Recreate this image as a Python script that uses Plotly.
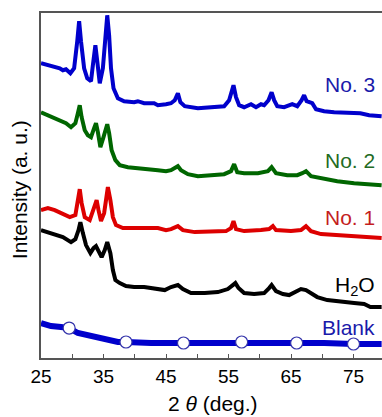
import plotly.graph_objects as go

# ---- data (2θ in degrees, intensity in arbitrary units) ----
no3_x = [25, 26.1, 27.2, 28, 28.5, 29, 29.7, 30.3, 30.8, 31.1, 31.4, 31.9, 32.4, 33.0, 33.3, 33.7, 34.0, 34.4, 34.9, 35.3,
         35.6, 35.9, 36.2, 36.6, 37.3, 38.3, 39.9, 40.5, 41.5, 43.1, 43.7, 45.0, 45.8, 46.4, 46.9, 47.3, 48.0, 50.1, 51.7, 54.3,
         55.1, 55.5, 55.8, 56.2, 56.7, 57.5, 58.6, 59.4, 60.2, 60.7, 61.4, 61.9, 62.3, 62.8, 63.9, 65.2, 66.0, 66.7, 67.1, 67.5,
         68.1, 68.4, 69.0, 70.3, 71.9, 74.0, 76.1, 77.5, 79.1, 79.5]
no3_y = [295, 293, 291, 290, 288, 289, 285, 290, 317, 337, 317, 290, 280, 277, 293, 313, 297, 275, 290, 323,
         343, 323, 290, 270, 260, 257, 256, 257, 255, 255, 253, 254, 255, 258, 265, 256, 252, 250, 251, 252,
         258, 268, 273, 261, 253, 251, 254, 251, 254, 253, 258, 266, 258, 252, 251, 254, 252, 258, 263, 257,
         255, 255, 249, 247, 246, 245, 245, 243, 242, 242]

no2_x = [25, 26.1, 27.2, 28.2, 29, 29.8, 30.5, 30.9, 31.2, 31.5, 32.0, 32.5, 33.0, 33.5, 33.8, 34.1, 34.5, 35.0, 35.6, 35.9,
         36.3, 36.9, 37.6, 38.9, 40.5, 42.1, 43.7, 45.0, 45.8, 46.9, 47.4, 48.5, 50.1, 52.2, 54.3, 55.4, 55.9, 56.4, 57.5, 59.7,
         61.3, 61.9, 62.6, 64.4, 66.0, 66.8, 67.4, 68.2, 69.8, 72.4, 75.1, 77.2, 79.1, 79.5]
no2_y = [246, 243, 241, 238, 235, 231, 235, 245, 253, 241, 228, 223, 221, 230, 235, 226, 211, 221, 234, 225,
         208, 198, 193, 191, 190, 190, 188, 187, 188, 192, 188, 184, 182, 183, 184, 187, 194, 186, 185, 185,
         187, 191, 185, 183, 183, 185, 187, 182, 180, 177, 175, 174, 173, 173]

no1_x = [25, 26.1, 27.2, 28.2, 29.6, 30.5, 30.9, 31.2, 31.5, 32.0, 32.8, 33.3, 33.9, 34.2, 34.6, 35.1, 35.4, 35.7, 36.1, 36.5,
         37.0, 38.1, 40.5, 42.1, 43.7, 45.0, 45.8, 46.9, 47.7, 49.6, 52.2, 54.6, 55.4, 55.8, 56.2, 57.5, 60.2, 61.5, 62.1, 62.6,
         65.0, 66.6, 67.4, 68.2, 69.8, 72.4, 75.6, 77.7, 79.1, 79.5]
no1_y = [148, 150, 148, 145, 141, 143, 158, 169, 155, 141, 138, 146, 158, 148, 137, 145, 161, 171, 158, 141,
         133, 130, 130, 130, 130, 128, 129, 132, 128, 126, 126, 127, 130, 137, 129, 127, 128, 129, 132, 128,
         127, 128, 132, 127, 124, 123, 122, 121, 120, 120]

h2o_x = [25, 26.1, 27.2, 28.5, 29.8, 30.5, 31.0, 31.3, 31.7, 32.2, 32.9, 33.4, 33.8, 34.2, 34.7, 35.2, 35.6, 36.1, 36.5, 36.9,
         37.6, 38.6, 39.9, 41.5, 43.1, 44.8, 45.8, 46.9, 47.7, 49.0, 51.2, 53.3, 54.9, 55.7, 56.1, 56.6, 57.5, 59.1, 60.7, 61.5,
         61.9, 62.6, 63.7, 64.7, 65.8, 66.6, 67.4, 68.2, 69.2, 70.8, 73.0, 75.1, 76.7, 77.7, 79.1, 79.5]
h2o_y = [128, 126, 124, 121, 116, 119, 128, 136, 125, 113, 105, 110, 112, 106, 101, 108, 116, 105, 88, 78,
         75, 72, 71, 71, 70, 68, 71, 73, 69, 65, 65, 66, 69, 73, 75, 70, 65, 64, 65, 70,
         73, 67, 64, 63, 66, 69, 68, 65, 61, 58, 56, 55, 54, 51, 51, 51]

blank_x = [25, 26.6, 28.2, 29.5, 30.9, 32.5, 34.1, 35.7, 37.3, 38.6, 40.5, 42.6, 45.0, 47.8, 51.2, 57.1, 60.7, 65.9, 70.3,
           75.0, 78.8, 79.5]
blank_y = [35, 32, 31, 30, 25, 23, 21, 18, 16, 16, 15, 15, 15, 15, 15, 16, 15, 15, 15, 14, 14, 14]
blank_mark_x = [29.5, 38.6, 47.8, 57.1, 65.9, 75.0]
blank_mark_y = [30, 16, 15, 16, 15, 14]

tick_vals = [25, 35, 45, 55, 65, 75]
tick_text = ["25", "35", "45", "55", "65", "75"]

FONT = "Liberation Sans, Arial, sans-serif"
BLUE = "#0000CC"
GREEN = "#006600"
RED = "#DD0000"
LW = 4

fig = go.Figure()
fig.add_trace(go.Scatter(x=blank_x, y=blank_y, mode="lines", line=dict(color=BLUE, width=6)))
fig.add_trace(go.Scatter(x=blank_mark_x, y=blank_mark_y, mode="markers",
                         marker=dict(size=12, color="white", line=dict(color="#3333AA", width=1.2))))
fig.add_trace(go.Scatter(x=h2o_x, y=h2o_y, mode="lines", line=dict(color="black", width=LW)))
fig.add_trace(go.Scatter(x=no1_x, y=no1_y, mode="lines", line=dict(color=RED, width=LW)))
fig.add_trace(go.Scatter(x=no2_x, y=no2_y, mode="lines", line=dict(color=GREEN, width=LW)))
fig.add_trace(go.Scatter(x=no3_x, y=no3_y, mode="lines", line=dict(color=BLUE, width=LW)))

labels = [("No. 3", 274, "#1A1AAA"), ("No. 2", 198, "#236B23"),
          ("No. 1", 141, "#C41E1E"), ("H<sub>2</sub>O", 72, "black"), ("Blank", 31, "#1A1AAA")]
for txt, yy, col in labels:
    fig.add_annotation(x=78.7, y=yy, xref="x", yref="y", text=txt, showarrow=False,
                       xanchor="right", yanchor="middle", font=dict(family=FONT, size=21, color=col))

fig.add_annotation(x=-0.065, y=0.489, xref="paper", yref="paper", text="Intensity (a. u.)",
                   textangle=-90, showarrow=False, xanchor="center", yanchor="middle",
                   font=dict(family=FONT, size=21, color="black"))
fig.add_annotation(x=0.504, y=-0.132, xref="paper", yref="paper", text="2 <i>θ</i> (deg.)",
                   showarrow=False, xanchor="center", yanchor="middle",
                   font=dict(family=FONT, size=21, color="black"))

fig.update_layout(
    width=382, height=417,
    margin=dict(l=41, r=0, t=13, b=59),
    paper_bgcolor="white", plot_bgcolor="white",
    showlegend=False,
    font=dict(family=FONT, size=19, color="black"),
)
fig.update_xaxes(range=[25, 79.56], tickvals=tick_vals, ticktext=tick_text, ticks="inside", ticklen=4,
                 tickcolor="#555555", showline=True, linecolor="#555555", linewidth=1.5, mirror=True,
                 minor=dict(tick0=25, dtick=5, ticks="inside", ticklen=4, tickcolor="#555555"),
                 showgrid=False, zeroline=False, tickfont=dict(family=FONT, size=19, color="black"))
fig.update_yaxes(range=[0, 345.3], showticklabels=False, ticks="", showline=True, linecolor="#555555",
                 linewidth=1.5, showgrid=False, zeroline=False)

fig.write_html("out.html", config={"displayModeBar": False},
               post_script="document.body.style.margin='0';document.body.style.overflow='hidden';")
